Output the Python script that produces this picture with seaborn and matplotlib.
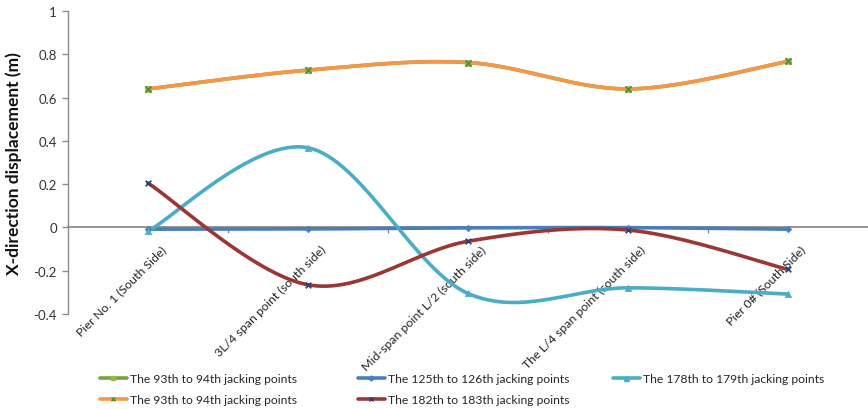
import numpy as np
import pandas as pd
import seaborn as sns
import matplotlib.pyplot as plt
import matplotlib.transforms as mtransforms
from matplotlib.lines import Line2D
from matplotlib.ticker import FixedLocator

# Measuring sections along the bridge
categories = [
    "Pier No. 1 (South Side)",
    "3L/4 span point (south side)",
    "Mid-span point L/2 (south side)",
    "The L/4 span point (south side)",
    "Pier 0# (South Side)",
]

# X-direction displacement (m) for each jacking stage
disp_93_94_a = [0.640, 0.727, 0.762, 0.640, 0.767]
disp_125_126 = [-0.008, -0.007, -0.002, -0.001, -0.008]
disp_178_179 = [-0.017, 0.368, -0.305, -0.279, -0.308]
disp_93_94_b = [0.640, 0.727, 0.762, 0.640, 0.767]
disp_182_183 = [0.205, -0.265, -0.064, -0.012, -0.194]

series_names = [
    "The 93th to 94th jacking points",
    "The 125th to 126th jacking points",
    "The 178th to 179th jacking points",
    "The 93th to 94th jacking points",
    "The 182th to 183th jacking points",
]
series_values = [disp_93_94_a, disp_125_126, disp_178_179, disp_93_94_b, disp_182_183]

line_colors = ["#77A13B", "#4A7EBB", "#4BACC6", "#F79646", "#9B3634"]
marker_styles = ["s", "D", "^", "x", "x"]
marker_colors = ["#8DBB4E", "#4A7EBB", "#4BACC6", "#5E8A2E", "#2A3F6E"]
marker_sizes = [3.5, 2.6, 3.6, 3.5, 3.2]

yticks = [1, 0.8, 0.6, 0.4, 0.2, 0, -0.2, -0.4]
ytick_labels = ["1", "0.8", "0.6", "0.4", "0.2", "0", "-0.2", "-0.4"]

FONT_SIZE = 8.7


def smooth_curve(values, steps=60):
    """Cubic Bezier smoothing through the points (spreadsheet-style smoothed line)."""
    pts = np.column_stack([np.arange(len(values), dtype=float), np.asarray(values, float)])
    n = len(pts)
    xs, ys = [], []
    t = np.linspace(0, 1, steps)[:, None]
    for i in range(n - 1):
        p0 = pts[max(i - 1, 0)]
        p1 = pts[i]
        p2 = pts[i + 1]
        p3 = pts[min(i + 2, n - 1)]
        c1 = p1 + (p2 - p0) / 6.0
        c2 = p2 - (p3 - p1) / 6.0
        b = ((1 - t) ** 3) * p1 + 3 * ((1 - t) ** 2) * t * c1 + 3 * (1 - t) * t ** 2 * c2 + t ** 3 * p2
        xs.append(b[:, 0])
        ys.append(b[:, 1])
    return np.concatenate(xs), np.concatenate(ys)


sns.set_theme(style="white")
plt.rcParams["font.family"] = ["Lato", "DejaVu Sans"]

fig = plt.figure(figsize=(8.68, 4.10), dpi=100)
ax = fig.add_axes([0.0783, 0.2317, 0.9217, 0.7390])

# green first, orange drawn over it
for idx in [0, 1, 2, 3, 4]:
    xs, ys = smooth_curve(series_values[idx])
    curve = pd.DataFrame({"x": xs, "y": ys})
    sns.lineplot(data=curve, x="x", y="y", sort=False, estimator=None,
                 color=line_colors[idx], linewidth=2.6, ax=ax, zorder=3 + idx)
    pts = pd.DataFrame({"x": np.arange(len(categories)), "y": series_values[idx]})
    m = marker_styles[idx]
    if m == "x":
        sns.scatterplot(data=pts, x="x", y="y", marker="x", s=marker_sizes[idx] ** 2 * 1.6,
                        color=marker_colors[idx], linewidth=1.2, ax=ax, zorder=10 + idx)
    else:
        sns.scatterplot(data=pts, x="x", y="y", marker=m, s=marker_sizes[idx] ** 2 * 1.6,
                        color=marker_colors[idx], edgecolor=marker_colors[idx],
                        linewidth=0.5, ax=ax, zorder=10 + idx)

ax.set_xlim(-0.5, 4.5)
ax.set_ylim(-0.4, 1.0)

axis_gray = "#8C8C8C"
for side in ["top", "right"]:
    ax.spines[side].set_visible(False)
ax.spines["left"].set_color(axis_gray)
ax.spines["left"].set_linewidth(1.0)
ax.spines["bottom"].set_position(("data", 0))
ax.spines["bottom"].set_color(axis_gray)
ax.spines["bottom"].set_linewidth(1.3)
ax.spines["bottom"].set_zorder(2)

ax.set_yticks(yticks)
ax.set_yticklabels(ytick_labels, fontsize=FONT_SIZE + 0.8, color="#333333")
ax.tick_params(axis="y", direction="out", length=4, width=1, color=axis_gray, pad=4, left=True)

ax.set_xticks(range(len(categories)))
ax.set_xticklabels(categories, fontsize=FONT_SIZE + 0.2, color="#222222",
                   rotation=45, ha="right", va="center", rotation_mode="anchor")
ax.tick_params(axis="x", which="major", length=0, pad=0)
ax.xaxis.set_minor_locator(FixedLocator([0.5, 1.5, 2.5, 3.5]))
ax.tick_params(axis="x", which="minor", direction="out", length=4, width=1,
               color=axis_gray, bottom=True)
shift = mtransforms.ScaledTranslation(0.16, -0.20, fig.dpi_scale_trans)
for lbl in ax.get_xticklabels():
    lbl.set_transform(lbl.get_transform() + shift)

ax.set_xlabel("")
ax.set_ylabel("X-direction displacement (m)", fontsize=12.5, fontweight="bold",
              color="#111111", labelpad=8)
ax.grid(False)

handles = []
for idx in range(5):
    handles.append(Line2D([0], [0], color=line_colors[idx], linewidth=2.6,
                          marker=marker_styles[idx], markersize=marker_sizes[idx],
                          markerfacecolor=marker_colors[idx], markeredgecolor=marker_colors[idx]))

# legend laid out as three columns: (green, orange), (blue, red), (cyan)
legend_columns = [([0, 3], 100), ([1, 4], 358), ([2], 613)]
W, H = 868.0, 410.0
for members, x_px in legend_columns:
    leg = fig.legend([handles[i] for i in members], [series_names[i] for i in members],
                     loc="upper left", bbox_to_anchor=(x_px / W, 1 - 374 / H),
                     frameon=False, fontsize=FONT_SIZE, handlelength=2.2, handletextpad=0.3,
                     labelspacing=0.85, borderaxespad=0.0, borderpad=0.0)

fig.savefig("out.png", dpi=100)
